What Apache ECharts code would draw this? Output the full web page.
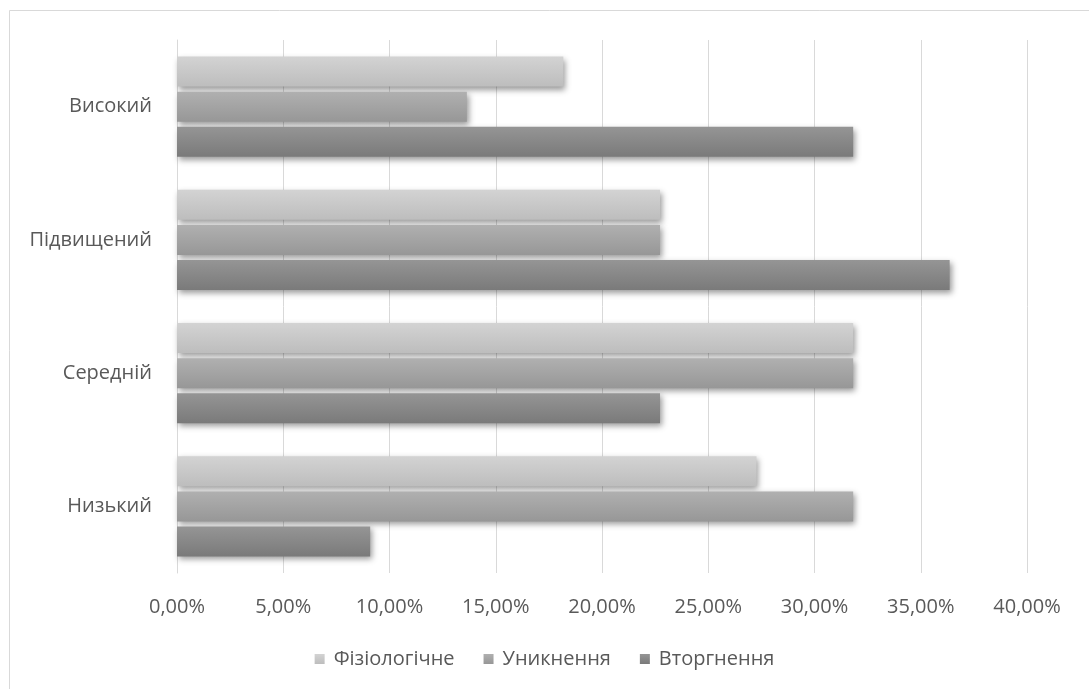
<!DOCTYPE html>
<html>
<head>
<meta charset="utf-8">
<script src="https://cdn.jsdelivr.net/npm/echarts@6/dist/echarts.min.js"></script>
<style>
  html, body { margin: 0; padding: 0; background: #ffffff; }
  #chart { width: 1089px; height: 689px; }
</style>
</head>
<body>
<div id="chart"></div>
<script>
// Categories, listed bottom to top on the vertical axis
const categories = ['Низький', 'Середній', 'Підвищений', 'Високий'];

// Shares per level, in percent
const fiziologichne = [27.27, 31.82, 22.73, 18.18];
const unyknennia    = [31.82, 31.82, 22.73, 13.64];
const vtorhnennia   = [9.09, 22.73, 36.36, 31.82];

const seriesNames = ['Фізіологічне', 'Уникнення', 'Вторгнення'];
const xTicks = { min: 0, max: 40, interval: 5 };

const font = '"Open Sans", "Noto Sans", "Liberation Sans", sans-serif';
const textColor = '#595959';

function grad(top, bottom) {
  return new echarts.graphic.LinearGradient(0, 0, 0, 1, [
    { offset: 0, color: top },
    { offset: 1, color: bottom }
  ]);
}

const barStyle = (top, bottom) => ({
  color: grad(top, bottom),
  shadowColor: 'rgba(0,0,0,0.4)',
  shadowBlur: 6,
  shadowOffsetX: 2,
  shadowOffsetY: 3
});

const chart = echarts.init(document.getElementById('chart'), null, { renderer: 'canvas' });

chart.setOption({
  animation: false,
  backgroundColor: '#ffffff',
  graphic: [{
    type: 'rect',
    shape: { x: 9.5, y: 10.5, width: 1100, height: 700 },
    style: { fill: 'none', stroke: '#d9d9d9', lineWidth: 1 },
    silent: true
  }],
  grid: { left: 177, right: 62, top: 40, bottom: 116, containLabel: false },
  legend: {
    data: seriesNames,
    bottom: 15,
    left: 'center',
    itemWidth: 10,
    itemHeight: 10,
    itemGap: 29,
    icon: 'rect',
    textStyle: { color: textColor, fontSize: 20, fontFamily: font, padding: [0, 0, 0, 4] }
  },
  xAxis: {
    type: 'value',
    min: xTicks.min,
    max: xTicks.max,
    interval: xTicks.interval,
    axisLine: { show: false },
    axisTick: { show: false },
    splitLine: { show: true, lineStyle: { color: '#d9d9d9', width: 1 } },
    axisLabel: {
      color: textColor,
      fontSize: 20,
      fontFamily: font,
      margin: 24,
      formatter: v => v.toFixed(2).replace('.', ',') + '%'
    }
  },
  yAxis: {
    type: 'category',
    data: categories,
    axisLine: { show: true, lineStyle: { color: '#d9d9d9' } },
    axisTick: { show: false },
    axisLabel: { color: textColor, fontSize: 20, fontFamily: font, margin: 25 }
  },
  series: [
    {
      name: seriesNames[0], type: 'bar', data: fiziologichne,
      barWidth: 30, barGap: '17%',
      itemStyle: barStyle('#d3d3d3', '#bdbdbd')
    },
    {
      name: seriesNames[1], type: 'bar', data: unyknennia,
      barWidth: 30, barGap: '17%',
      itemStyle: barStyle('#b0b0b0', '#979797')
    },
    {
      name: seriesNames[2], type: 'bar', data: vtorhnennia,
      barWidth: 30, barGap: '17%',
      itemStyle: barStyle('#959595', '#7a7a7a')
    }
  ]
});
</script>
</body>
</html>
